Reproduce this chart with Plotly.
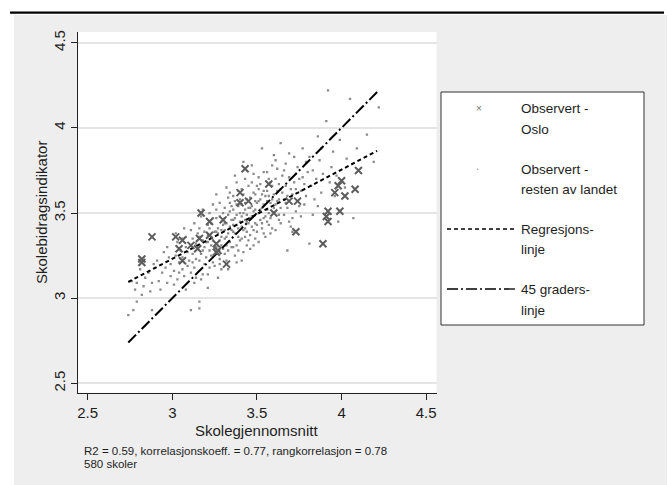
import plotly.graph_objects as go

W, H = 672, 485

# Oslo schools: school average (x) vs school contribution indicator (y)
oslo_x = [2.82, 2.82, 2.88, 3.02, 3.06, 3.04, 3.06, 3.11, 3.16, 3.15, 3.17, 3.22, 3.22,
          3.26, 3.27, 3.26, 3.32, 3.30, 3.40, 3.40, 3.43, 3.45, 3.57, 3.60, 3.69, 3.74,
          3.73, 3.92, 3.99, 3.91, 3.92, 3.89, 3.96, 3.98, 4.00, 4.02, 4.08, 4.10]
oslo_y = [3.21, 3.23, 3.36, 3.36, 3.34, 3.29, 3.22, 3.31, 3.35, 3.29, 3.50, 3.45, 3.37,
          3.32, 3.28, 3.27, 3.20, 3.46, 3.62, 3.56, 3.76, 3.57, 3.67, 3.50, 3.57, 3.57,
          3.39, 3.51, 3.51, 3.48, 3.45, 3.32, 3.62, 3.66, 3.69, 3.60, 3.64, 3.75]

# Schools in the rest of the country
rest_x = [
    2.74, 2.77, 2.79, 2.79, 2.76, 2.78,
    2.82, 2.84, 2.81, 2.83,
    2.88, 2.88, 2.86, 2.89, 2.87,
    2.92, 2.91, 2.94, 2.93, 2.95,
    2.97, 2.96, 2.98, 2.99, 2.97, 2.99,
    3.01, 3.04, 3.02, 3.03, 3.01, 3.04, 3.02, 3.03, 3.05,
    3.07, 3.06, 3.08, 3.09, 3.06, 3.08, 3.09, 3.07, 3.10, 3.06, 3.08,
    3.11, 3.12, 3.13, 3.14, 3.11, 3.13, 3.14, 3.12, 3.15, 3.11, 3.13, 3.14, 3.12, 3.15,
    3.16, 3.16, 3.17, 3.18, 3.19, 3.16, 3.18, 3.19, 3.17, 3.20, 3.16, 3.18, 3.19, 3.17, 3.20, 3.18, 3.16,
    3.21, 3.22, 3.23, 3.24, 3.21, 3.23, 3.24, 3.22, 3.25, 3.21, 3.23, 3.24, 3.22, 3.25, 3.21, 3.23, 3.24, 3.22, 3.25, 3.21,
    3.26, 3.27, 3.28, 3.29, 3.26, 3.28, 3.29, 3.27, 3.30, 3.26, 3.28, 3.29, 3.27, 3.30, 3.26, 3.28, 3.29, 3.27, 3.30, 3.26, 3.28, 3.29,
    3.31, 3.32, 3.33, 3.34, 3.31, 3.33, 3.34, 3.32, 3.35, 3.31, 3.33, 3.34, 3.32, 3.35, 3.31, 3.33, 3.34, 3.32, 3.35, 3.31, 3.33, 3.34, 3.32, 3.35, 3.31,
    3.36, 3.37, 3.38, 3.39, 3.36, 3.38, 3.39, 3.37, 3.40, 3.36, 3.38, 3.39, 3.37, 3.40, 3.36, 3.38, 3.39, 3.37, 3.40, 3.36, 3.38, 3.39, 3.37, 3.40, 3.36, 3.38,
    3.41, 3.42, 3.43, 3.44, 3.41, 3.43, 3.44, 3.42, 3.45, 3.41, 3.43, 3.44, 3.42, 3.45, 3.41, 3.43, 3.44, 3.42, 3.45, 3.41, 3.43, 3.44, 3.42, 3.45, 3.41, 3.43,
    3.46, 3.47, 3.48, 3.49, 3.46, 3.48, 3.49, 3.47, 3.50, 3.46, 3.48, 3.49, 3.47, 3.50, 3.46, 3.48, 3.49, 3.47, 3.50, 3.46, 3.48, 3.49, 3.47, 3.50,
    3.51, 3.52, 3.53, 3.54, 3.51, 3.53, 3.54, 3.52, 3.55, 3.51, 3.53, 3.54, 3.52, 3.55, 3.51, 3.53, 3.54, 3.52, 3.55, 3.51, 3.53, 3.54,
    3.56, 3.57, 3.58, 3.59, 3.56, 3.58, 3.59, 3.57, 3.60, 3.56, 3.58, 3.59, 3.57, 3.60, 3.56, 3.58, 3.59, 3.57, 3.60, 3.56,
    3.61, 3.62, 3.63, 3.64, 3.61, 3.63, 3.64, 3.62, 3.65, 3.61, 3.63, 3.64, 3.62, 3.65, 3.61, 3.63, 3.64,
    3.66, 3.67, 3.68, 3.69, 3.66, 3.68, 3.69, 3.67, 3.70, 3.66, 3.68, 3.69, 3.67, 3.70,
    3.71, 3.72, 3.73, 3.74, 3.71, 3.73, 3.74, 3.72, 3.75, 3.71, 3.73, 3.75,
    3.76, 3.77, 3.78, 3.79, 3.76, 3.78, 3.79, 3.77, 3.80,
    3.81, 3.82, 3.83, 3.84, 3.81, 3.83, 3.85,
    3.86, 3.87, 3.88, 3.89, 3.86, 3.88,
    3.92, 3.91, 3.95, 3.93, 3.94,
    3.98, 3.97, 3.99, 3.96,
    4.03, 4.05, 4.02,
    4.07, 4.09,
    4.22, 4.15, 4.19,
]
rest_y = [
    2.90, 2.93, 2.98, 3.09, 3.10, 3.05,
    3.02, 3.12, 3.17, 3.07,
    3.09, 2.93, 3.15, 3.20, 3.04,
    3.10, 3.22, 3.15, 3.05, 3.27,
    3.09, 3.18, 3.24, 3.13, 3.30, 3.20,
    3.16, 3.15, 3.25, 3.33, 3.08, 3.21, 3.38, 3.11, 3.28,
    3.13, 3.24, 3.30, 3.19, 3.35, 3.05, 3.27, 3.41, 3.22, 3.17, 3.36,
    2.93, 3.26, 3.18, 3.32, 3.40, 3.09, 3.23, 3.35, 3.29, 3.15, 3.44, 3.12, 3.21, 3.38,
    2.98, 2.94, 3.26, 3.34, 3.20, 3.41, 3.14, 3.30, 3.48, 3.24, 3.36, 3.28, 3.39, 3.11, 3.33, 3.52, 3.22,
    3.14, 3.28, 3.36, 3.21, 3.43, 3.31, 3.47, 3.18, 3.39, 3.33, 3.25, 3.55, 3.41, 3.29, 3.06, 3.44, 3.34, 3.50, 3.19, 3.37,
    3.30, 3.38, 3.23, 3.45, 3.52, 3.34, 3.17, 3.41, 3.29, 3.61, 3.48, 3.36, 3.26, 3.43, 3.39, 3.56, 3.31, 3.12, 3.50, 3.47, 3.20, 3.40,
    3.35, 3.44, 3.28, 3.51, 3.40, 3.59, 3.33, 3.22, 3.46, 3.53, 3.38, 3.42, 3.65, 3.30, 3.47, 3.17, 3.56, 3.36, 3.40, 3.26, 3.49, 3.62, 3.31, 3.54, 3.44,
    3.39, 3.47, 3.31, 3.54, 3.60, 3.43, 3.36, 3.25, 3.50, 3.46, 3.68, 3.41, 3.57, 3.34, 3.52, 3.21, 3.63, 3.38, 3.45, 3.30, 3.49, 3.28, 3.72, 3.58, 3.43, 3.55,
    3.42, 3.50, 3.36, 3.58, 3.64, 3.46, 3.31, 3.27, 3.53, 3.48, 3.70, 3.39, 3.61, 3.44, 3.35, 3.56, 3.49, 3.40, 3.66, 3.22, 3.52, 3.45, 3.80, 3.34, 3.55, 3.41,
    3.47, 3.54, 3.40, 3.61, 3.37, 3.51, 3.44, 3.68, 3.56, 3.29, 3.73, 3.35, 3.48, 3.43, 3.59, 3.62, 3.52, 3.42, 3.66, 3.53, 3.31, 3.57, 3.78, 3.39,
    3.50, 3.58, 3.44, 3.63, 3.71, 3.53, 3.38, 3.46, 3.60, 3.33, 3.88, 3.55, 3.67, 3.48, 3.57, 3.41, 3.74, 3.52, 3.36, 3.64, 3.61, 3.47,
    3.52, 3.60, 3.47, 3.66, 3.74, 3.56, 3.41, 3.50, 3.84, 3.63, 3.38, 3.58, 3.70, 3.53, 3.45, 3.68, 3.78, 3.43, 3.61, 3.57,
    3.55, 3.63, 3.49, 3.91, 3.70, 3.58, 3.44, 3.76, 3.62, 3.40, 3.67, 3.53, 3.57, 3.72, 3.81, 3.46, 3.64,
    3.58, 3.66, 3.28, 3.71, 3.49, 3.60, 3.45, 3.79, 3.64, 3.75, 3.53, 3.85, 3.56, 3.42,
    3.61, 3.68, 3.51, 3.77, 3.47, 3.64, 3.57, 3.83, 3.70, 3.39, 3.73, 3.54,
    3.63, 3.71, 3.55, 3.80, 3.48, 3.67, 3.60, 3.88, 3.74,
    3.32, 3.66, 3.75, 3.58, 3.83, 3.49, 3.70,
    3.95, 3.81, 3.62, 3.73, 3.54, 3.88,
    4.22, 4.04, 3.86, 3.68, 3.77,
    3.45, 3.72, 3.93, 3.60,
    3.82, 4.17, 3.65,
    3.47, 3.88,
    4.12, 3.96, 3.80,
]

# Fitted regression line (end points over the observed x range)
reg_x = [2.74, 4.21]
reg_y = [3.095, 3.865]
# 45 degree reference line y = x
diag_x = [2.74, 4.22]
diag_y = [2.74, 4.22]

x_ticks = [2.5, 3, 3.5, 4, 4.5]
y_ticks = [2.5, 3, 3.5, 4, 4.5]

FONT = "Liberation Sans, Arial, sans-serif"
INK = "#1e1e1e"
PANEL = "#eeeeee"
REG_DASH = "4px,3px"
DIAG_DASH = "11px,3px,2px,3px"


def px(x):
    return x / W


def py(y):
    return 1 - y / H


fig = go.Figure()

fig.add_trace(go.Scatter(
    x=rest_x, y=rest_y, mode="markers", name="Observert - resten av landet",
    marker=dict(symbol="square", size=2.3, color="#8a8a8a", line=dict(width=0)),
))
fig.add_trace(go.Scatter(
    x=reg_x, y=reg_y, mode="lines", name="Regresjonslinje",
    line=dict(color="black", width=2, dash=REG_DASH),
))
fig.add_trace(go.Scatter(
    x=diag_x, y=diag_y, mode="lines", name="45 graderslinje",
    line=dict(color="black", width=2, dash=DIAG_DASH),
))
fig.add_trace(go.Scatter(
    x=oslo_x, y=oslo_y, mode="markers", name="Observert - Oslo",
    marker=dict(symbol="x-thin", size=7, color="#5c5c5c",
                line=dict(width=2, color="#5c5c5c")),
))

shapes = []
# white strips around the grey panel (the page background is the panel colour)
for x0, x1, y0, y1 in [(0, W, 0, 15), (0, 14, 0, H), (667, W, 0, H)]:
    shapes.append(dict(type="rect", xref="paper", yref="paper",
                       x0=px(x0), x1=px(x1), y0=py(y1), y1=py(y0),
                       fillcolor="white", line=dict(width=0), layer="below"))
# rule across the top
shapes.append(dict(type="line", xref="paper", yref="paper",
                   x0=px(10), x1=px(664), y0=py(12.7), y1=py(12.7),
                   line=dict(color="black", width=2.2)))
# legend frame
shapes.append(dict(type="rect", xref="paper", yref="paper",
                   x0=px(441), x1=px(644), y0=py(325), y1=py(92),
                   fillcolor="white", line=dict(color="#333333", width=1)))
# legend keys
shapes.append(dict(type="line", xref="paper", yref="paper",
                   x0=px(447), x1=px(515), y0=py(229), y1=py(229),
                   line=dict(color="black", width=1.3, dash=REG_DASH)))
shapes.append(dict(type="line", xref="paper", yref="paper",
                   x0=px(447), x1=px(515), y0=py(289), y1=py(289),
                   line=dict(color="black", width=1.3, dash=DIAG_DASH)))
shapes.append(dict(type="rect", xref="paper", yref="paper",
                   x0=px(477), x1=px(478.5), y0=py(170), y1=py(168.5),
                   fillcolor="#b0b0b0", line=dict(width=0)))

annotations = []
legend_lines = [
    ("Observert -", 109), ("Oslo", 130),
    ("Observert -", 169), ("resten av landet", 190),
    ("Regresjons-", 229), ("linje", 250),
    ("45 graders-", 289), ("linje", 310),
]
for txt, yy in legend_lines:
    annotations.append(dict(text=txt, xref="paper", yref="paper", x=px(519), y=py(yy),
                            xanchor="left", yanchor="middle", showarrow=False,
                            font=dict(family=FONT, size=13.5, color=INK)))
annotations.append(dict(text="×", xref="paper", yref="paper", x=px(478.5), y=py(109),
                        xanchor="center", yanchor="middle", showarrow=False,
                        font=dict(family=FONT, size=10, color="#777777")))
# axis titles
annotations.append(dict(text="Skolegjennomsnitt", xref="paper", yref="paper",
                        x=px(256.5), y=py(430), xanchor="center", yanchor="middle",
                        showarrow=False, font=dict(family=FONT, size=15, color=INK)))
annotations.append(dict(text="Skolebidragsindikator", xref="paper", yref="paper",
                        x=px(41.5), y=py(212.5), xanchor="center", yanchor="middle",
                        textangle=-90, showarrow=False,
                        font=dict(family=FONT, size=15, color=INK)))
# notes under the graph
annotations.append(dict(text="R2 = 0.59, korrelasjonskoeff. = 0.77, rangkorrelasjon = 0.78",
                        xref="paper", yref="paper", x=px(81.5), y=py(451),
                        xanchor="left", yanchor="middle", showarrow=False,
                        font=dict(family=FONT, size=11.5, color=INK)))
annotations.append(dict(text="580 skoler", xref="paper", yref="paper", x=px(81.5), y=py(464),
                        xanchor="left", yanchor="middle", showarrow=False,
                        font=dict(family=FONT, size=11.5, color=INK)))

fig.update_layout(
    width=W, height=H,
    margin=dict(l=0, r=0, t=0, b=0, autoexpand=False),
    paper_bgcolor=PANEL, plot_bgcolor="white",
    showlegend=False,
    shapes=shapes, annotations=annotations,
    font=dict(family=FONT, color=INK),
    xaxis=dict(
        domain=[px(77.7), px(436.5)], range=[2.441, 4.561],
        tickvals=x_ticks, ticktext=[f"{v:g}" for v in x_ticks],
        ticks="outside", ticklen=6, tickwidth=1, tickcolor="#222222",
        showline=True, linecolor="#222222", linewidth=1.2,
        showgrid=False, zeroline=False, automargin=False,
        tickfont=dict(family=FONT, size=15, color=INK),
    ),
    yaxis=dict(
        domain=[py(392.7), py(32)], range=[2.445, 4.563],
        tickvals=y_ticks, ticktext=[f"{v:g}" for v in y_ticks],
        ticks="outside", ticklen=6, tickwidth=1, tickcolor="#222222",
        showline=True, linecolor="#222222", linewidth=1.2,
        showgrid=True, gridcolor="#e4e4e4", gridwidth=1.6,
        zeroline=False, automargin=False, tickangle=-90,
        tickfont=dict(family=FONT, size=15, color=INK),
    ),
)

fig.write_html("out.html")
